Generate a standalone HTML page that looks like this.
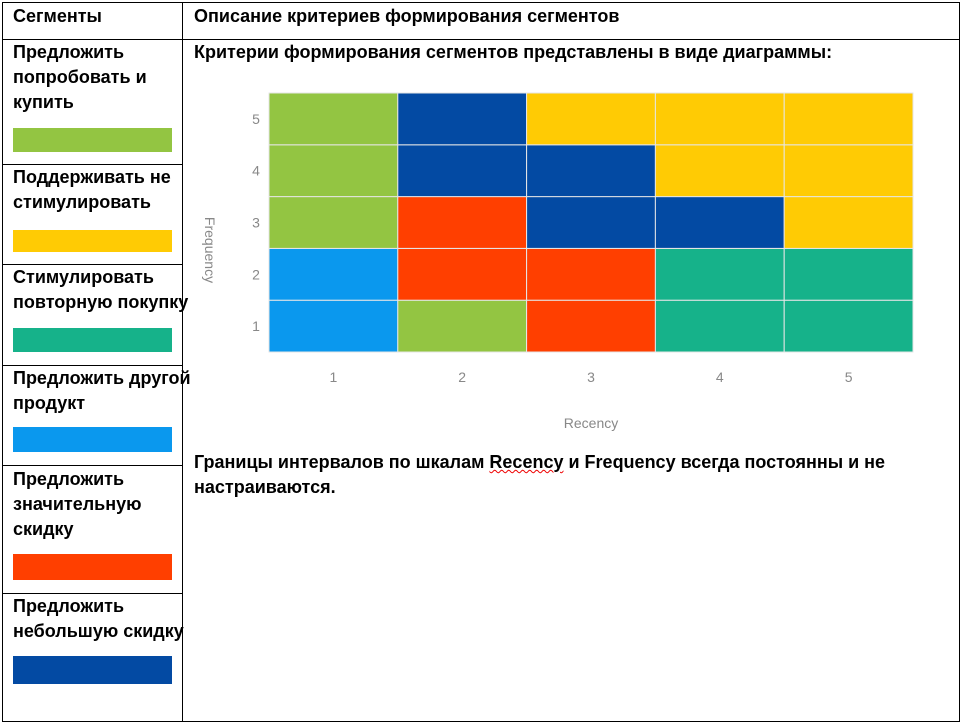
<!DOCTYPE html>
<html><head><meta charset="utf-8">
<style>
body{margin:0;width:962px;height:725px;background:#fff;position:relative;overflow:hidden;font-family:"Liberation Sans Narrow","Liberation Sans",sans-serif;font-weight:bold;font-size:18px;color:#000}
.a{position:absolute}
.l{position:absolute;background:#000}
.t{position:absolute;line-height:25px;white-space:nowrap}
.sw{position:absolute;left:13px;width:159px}
svg text{font-family:"Liberation Sans",sans-serif;font-weight:normal}
</style></head><body>
<div class="l" style="left:2px;top:2px;width:958px;height:1px"></div>
<div class="l" style="left:2px;top:721px;width:958px;height:1px"></div>
<div class="l" style="left:2px;top:2px;width:1px;height:720px"></div>
<div class="l" style="left:959px;top:2px;width:1px;height:720px"></div>
<div class="l" style="left:182px;top:2px;width:1px;height:720px"></div>
<div class="l" style="left:2px;top:39px;width:958px;height:1px"></div>
<div class="l" style="left:2px;top:164px;width:181px;height:1px"></div>
<div class="l" style="left:2px;top:264px;width:181px;height:1px"></div>
<div class="l" style="left:2px;top:365px;width:181px;height:1px"></div>
<div class="l" style="left:2px;top:465px;width:181px;height:1px"></div>
<div class="l" style="left:2px;top:593px;width:181px;height:1px"></div>

<div class="t" style="left:13px;top:4px">Сегменты</div>
<div class="t" style="left:194px;top:4px">Описание критериев формирования сегментов</div>

<div class="t" style="left:13px;top:40px">Предложить<br>попробовать и<br>купить</div>
<div class="sw" style="top:128px;height:24px;background:#93c542"></div>
<div class="t" style="left:13px;top:165px">Поддерживать не<br>стимулировать</div>
<div class="sw" style="top:230px;height:22px;background:#ffcb04"></div>
<div class="t" style="left:13px;top:265px">Стимулировать<br>повторную покупку</div>
<div class="sw" style="top:328px;height:24px;background:#16b28a"></div>
<div class="t" style="left:13px;top:366px">Предложить другой<br>продукт</div>
<div class="sw" style="top:427px;height:25px;background:#0a98ee"></div>
<div class="t" style="left:13px;top:467px">Предложить<br>значительную<br>скидку</div>
<div class="sw" style="top:554px;height:26px;background:#ff3f00"></div>
<div class="t" style="left:13px;top:594px">Предложить<br>небольшую скидку</div>
<div class="sw" style="top:656px;height:28px;background:#034aa3"></div>

<div class="t" style="left:194px;top:40px">Критерии формирования сегментов представлены в виде диаграммы:</div>
<div class="t" style="left:194px;top:450px">Границы интервалов по шкалам <span style="text-decoration:underline wavy #e00;text-decoration-thickness:1px">Recency</span> и Frequency всегда постоянны и не<br>настраиваются.</div>

<svg class="a" style="left:0;top:0" width="962" height="725" id="chart"></svg>
<script>
const recencyCats=[1,2,3,4,5];
const frequencyCats=[1,2,3,4,5];
// rows listed from frequency 1 to 5, columns recency 1..5
const segmentGrid=[
 ["other","try","big","repeat","repeat"],
 ["other","big","big","repeat","repeat"],
 ["try","big","small","small","support"],
 ["try","small","small","support","support"],
 ["try","small","support","support","support"]
];
const segmentColors={try:"#93c542",support:"#ffcb04",repeat:"#16b28a",other:"#0a98ee",big:"#ff3f00",small:"#034aa3"};
const X0=269,X1=913,Y0=93,Y1=352;
const cw=(X1-X0)/recencyCats.length, ch=(Y1-Y0)/frequencyCats.length;
const xPos=i=>X0+i*cw;
const yPos=j=>Y1-(j+1)*ch;
const svg=document.getElementById('chart');
const NS="http://www.w3.org/2000/svg";
segmentGrid.forEach((row,j)=>row.forEach((seg,i)=>{
 const r=document.createElementNS(NS,'rect');
 r.setAttribute('x',xPos(i));r.setAttribute('y',yPos(j));
 r.setAttribute('width',cw);r.setAttribute('height',ch);
 r.setAttribute('fill',segmentColors[seg]);r.setAttribute('stroke','#e6e6e6');r.setAttribute('stroke-width','1');
 
 
 svg.appendChild(r);
}));
recencyCats.forEach((c,i)=>{
 const t=document.createElementNS(NS,'text');
 t.setAttribute('x',xPos(i)+cw/2);t.setAttribute('y',382);t.setAttribute('text-anchor','middle');
 t.setAttribute('font-size','14');t.setAttribute('fill','#888');t.textContent=c;
 
 
 svg.appendChild(t);
});
frequencyCats.forEach((c,j)=>{
 const t=document.createElementNS(NS,'text');
 t.setAttribute('x',256);t.setAttribute('y',yPos(j)+ch/2+5);t.setAttribute('text-anchor','middle');
 t.setAttribute('font-size','14');t.setAttribute('fill','#888');t.textContent=c;
 
 
 svg.appendChild(t);
});
const xt=document.createElementNS(NS,'text');
xt.setAttribute('x',591);xt.setAttribute('y',428);xt.setAttribute('text-anchor','middle');
xt.setAttribute('font-size','14');xt.setAttribute('fill','#888');xt.textContent='Recency';


svg.appendChild(xt);
const yt=document.createElementNS(NS,'text');
yt.setAttribute('transform','translate(205,250) rotate(90)');yt.setAttribute('text-anchor','middle');
yt.setAttribute('font-size','14');yt.setAttribute('fill','#888');yt.textContent='Frequency';


svg.appendChild(yt);
</script>
</body></html>
